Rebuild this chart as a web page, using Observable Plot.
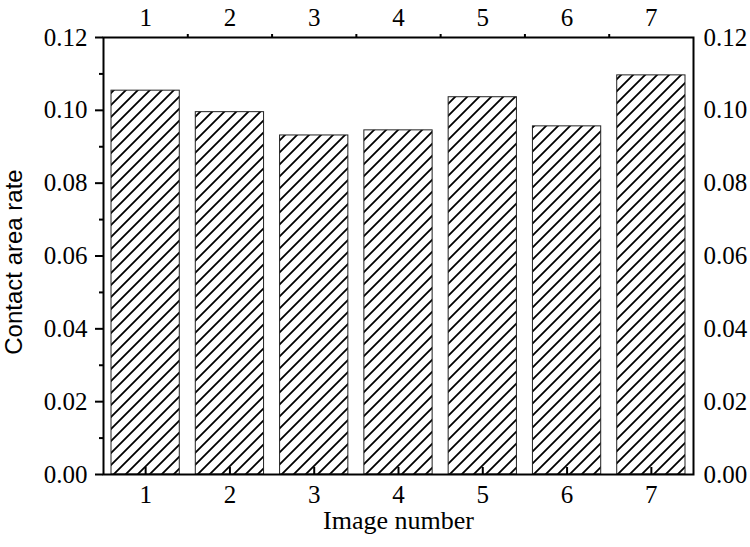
<!DOCTYPE html>
<html><head><meta charset="utf-8">
<script src="https://cdn.jsdelivr.net/npm/d3@7"></script>
<script src="https://cdn.jsdelivr.net/npm/@observablehq/plot@0.6"></script>
<style>body{margin:0;background:#fff}</style>
</head><body><div id="chart"></div>
<script>
const images = [1, 2, 3, 4, 5, 6, 7];
const rates = [0.1054, 0.0995, 0.0931, 0.0945, 0.1036, 0.0956, 0.1096];
const yTicks = [0, 0.02, 0.04, 0.06, 0.08, 0.10, 0.12];
const yMinor = [0.01, 0.03, 0.05, 0.07, 0.09, 0.11];
const xBoundaries = [1.5, 2.5, 3.5, 4.5, 5.5, 6.5];
const xLabel = "Image number";
const yLabel = "Contact area rate";

const data = images.map((img, i) => ({img, rate: rates[i]}));
const halfBar = 0.405;
const serif = "'Liberation Serif', 'Times New Roman', 'DejaVu Serif', serif";
const sans = "'Liberation Sans', Arial, sans-serif";
const fmt = d3.format(".2f");

const chart = Plot.plot({
  width: 750, height: 547,
  marginLeft: 103, marginRight: 57, marginTop: 37, marginBottom: 73,
  x: {type: "linear", domain: [0.5, 7.5]},
  y: {domain: [0, 0.12]},
  style: {background: "white", color: "black"},
  marks: [
    Plot.rectY(data, {x1: d => d.img - halfBar, x2: d => d.img + halfBar, y1: 0, y2: "rate",
      fill: "url(#hatch)", stroke: "#222", strokeWidth: 1}),
    Plot.frame({stroke: "black", strokeWidth: 2}),
    Plot.axisY(yTicks, {anchor: "left", tickSize: 8, tickPadding: 8, strokeWidth: 2, tickFormat: fmt, fontSize: 25, label: null}),
    Plot.axisY(yMinor, {anchor: "left", tickSize: 4, strokeWidth: 2, tickFormat: () => "", label: null}),
    Plot.axisY(yTicks, {anchor: "right", tickSize: 0, tickPadding: 10, tickFormat: fmt, fontSize: 25, label: null}),
    Plot.axisX(images, {anchor: "bottom", tickSize: 0, tickPadding: 11, tickFormat: d => d, fontSize: 25, label: null}),
    Plot.axisX(images, {anchor: "bottom", tickSize: -7, strokeWidth: 2, tickFormat: () => "", label: null}),
    Plot.axisX(images, {anchor: "top", tickSize: 0, tickPadding: 12, tickFormat: d => d, fontSize: 25, label: null}),
    Plot.axisX(xBoundaries, {anchor: "top", tickSize: 4, strokeWidth: 2, tickFormat: () => "", label: null}),
    Plot.text([xLabel], {text: d => d, frameAnchor: "bottom", dy: 46, lineAnchor: "middle", textAnchor: "middle", fontSize: 26, fill: "black"}),
    Plot.text([yLabel], {text: d => d, frameAnchor: "left", dx: -89, dy: 6, rotate: -90, lineAnchor: "middle", textAnchor: "middle", fontSize: 24, fill: "black"})
  ]
});

const svg = d3.select(chart);
svg.selectAll("text").style("font-family", serif);
svg.selectAll("text").filter(function () { return this.textContent === yLabel; }).style("font-family", sans);
const defs = svg.insert("defs", ":first-child");
const p = defs.append("pattern").attr("id", "hatch").attr("patternUnits", "userSpaceOnUse")
  .attr("width", 12).attr("height", 12);
p.append("rect").attr("width", 12).attr("height", 12).attr("fill", "white");
p.append("path").attr("d", "M-3,3L3,-3M0,12L12,0M9,15L15,9")
  .attr("stroke", "black").attr("stroke-width", 1.8).attr("fill", "none");

document.getElementById("chart").appendChild(chart);
</script>
</body></html>
